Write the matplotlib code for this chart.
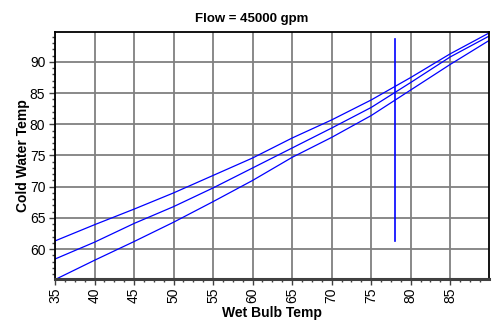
import matplotlib
matplotlib.use("Agg")
import matplotlib.pyplot as plt
from matplotlib.ticker import MultipleLocator

# wet bulb temperature (x) and cold water temperature curves
wet_bulb = [35, 40, 45, 50, 55, 60, 65, 70, 75, 80, 85, 90]
cold_upper = [61.3, 63.9, 66.4, 69.0, 71.8, 74.6, 77.8, 80.7, 83.9, 87.5, 91.3, 94.7]
cold_middle = [58.4, 61.1, 64.1, 66.8, 69.8, 73.0, 76.2, 79.4, 82.7, 86.7, 90.8, 94.2]
cold_lower = [55.1, 58.2, 61.2, 64.3, 67.6, 71.0, 74.7, 77.9, 81.4, 85.5, 89.6, 93.5]

# design wet bulb marker
design_wb = 78.0
design_range = [61.3, 93.7]

plt.rcParams["font.family"] = ["Liberation Sans", "DejaVu Sans"]

fig = plt.figure(figsize=(5.03, 3.29), dpi=100)
ax = fig.add_axes([0.1093, 0.152, 0.8628, 0.7508])

for ys in (cold_upper, cold_middle, cold_lower):
    ax.plot(wet_bulb, ys, color="#0000ff", lw=0.9)
ax.plot([design_wb, design_wb], design_range, color="#0000ff", lw=1.2)

ax.set_xlim(35, 89.9)
ax.set_ylim(55.2, 94.8)
ax.xaxis.set_major_locator(MultipleLocator(5))
ax.xaxis.set_minor_locator(MultipleLocator(1.25))
ax.yaxis.set_major_locator(MultipleLocator(5))
ax.yaxis.set_minor_locator(MultipleLocator(1))
ax.set_yticks([60, 65, 70, 75, 80, 85, 90])

ax.grid(True, which="major", color="#808080", lw=1.3)
ax.set_axisbelow(True)

ax.tick_params(axis="x", which="major", labelrotation=90, labelsize=10,
               length=4, width=1, color="#404040", pad=2)
ax.tick_params(axis="y", which="major", labelsize=10, length=4, width=1,
               color="#404040", pad=3)
ax.tick_params(which="minor", length=2.5, width=1, color="#404040")

for side in ("top", "right", "left"):
    ax.spines[side].set_color("black")
    ax.spines[side].set_linewidth(1.3)
ax.spines["bottom"].set_color("#404040")
ax.spines["bottom"].set_linewidth(2.2)

fig.suptitle("Flow = 45000 gpm", x=0.5, y=0.96, fontsize=9.5, fontweight="bold")
ax.set_xlabel("Wet Bulb Temp", fontsize=10, fontweight="bold", labelpad=2)
ax.set_ylabel("Cold Water Temp", fontsize=10, fontweight="bold")
ax.yaxis.set_label_coords(-0.058, 0.5)

fig.savefig("out.png", dpi=100)
